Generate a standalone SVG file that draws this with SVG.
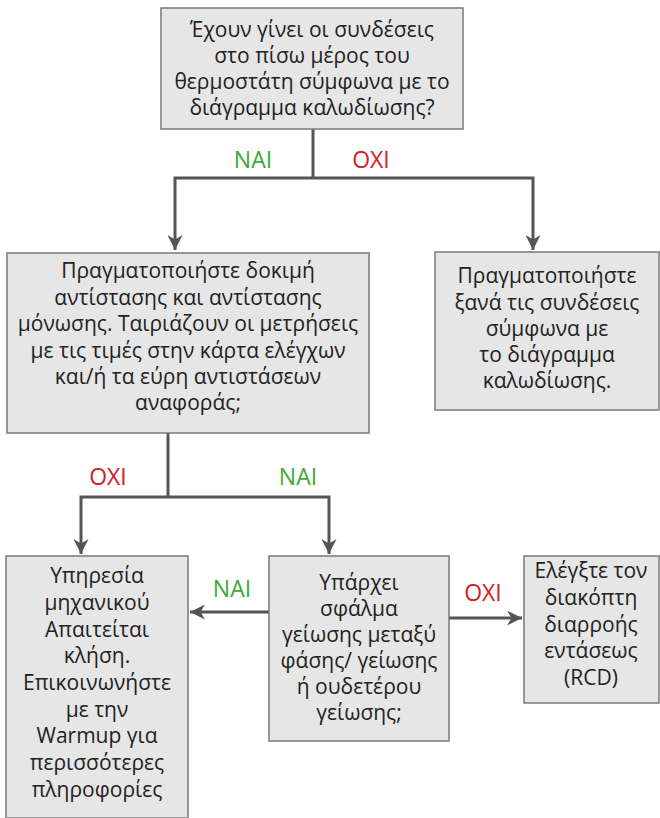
<svg xmlns="http://www.w3.org/2000/svg" width="660" height="818" viewBox="0 0 660 818">
<style>
.box{fill:#e6e6e6;stroke:#7a7a7a;stroke-width:1.5}
.t{font-family:"Open Sans","Noto Sans","DejaVu Sans",sans-serif;font-size:21px;fill:#222;text-anchor:middle}
.lbl{font-family:"Open Sans","Noto Sans","DejaVu Sans",sans-serif;font-size:23px;text-anchor:middle}
.yes{fill:#3aaa35}
.no{fill:#d42027}
.ln{fill:none;stroke:#555;stroke-width:3}
</style>
<defs>
<marker id="ah" viewBox="0 0 10 10" refX="10" refY="5" markerWidth="5" markerHeight="5" orient="auto" markerUnits="strokeWidth">
<path d="M0,0 L10,5 L0,10 L3,5 Z" fill="#555"/>
</marker>
</defs>
<g id="connectors">
<path class="ln" d="M313,129 V178"/>
<path class="ln" d="M313,178 H175 V250" marker-end="url(#ah)"/>
<path class="ln" d="M313,178 H533 V250" marker-end="url(#ah)"/>
<path class="ln" d="M168,433 V497"/>
<path class="ln" d="M168,497 H81 V554" marker-end="url(#ah)"/>
<path class="ln" d="M168,497 H329 V554" marker-end="url(#ah)"/>
<path class="ln" d="M269,612 H190" marker-end="url(#ah)"/>
<path class="ln" d="M449,618 H522" marker-end="url(#ah)"/>
<text class="lbl yes" x="253" y="168">NAI</text>
<text class="lbl no" x="371" y="168">OXI</text>
<text class="lbl no" x="108" y="485">OXI</text>
<text class="lbl yes" x="298" y="485">NAI</text>
<text class="lbl yes" x="232" y="597">NAI</text>
<text class="lbl no" x="483" y="601">OXI</text>
</g>
<g id="n1">
<rect class="box" x="161" y="8" width="302" height="121"/>
<text class="t"><tspan x="312" y="37">Έχουν γίνει οι συνδέσεις</tspan><tspan x="312" y="63">στο πίσω μέρος του</tspan><tspan x="312" y="89">θερμοστάτη σύμφωνα με το</tspan><tspan x="312" y="115">διάγραμμα καλωδίωσης?</tspan></text>
</g>
<g id="n2">
<rect class="box" x="7" y="253" width="362" height="180"/>
<text class="t"><tspan x="188" y="278">Πραγματοποιήστε δοκιμή</tspan><tspan x="188" y="305">αντίστασης και αντίστασης</tspan><tspan x="188" y="331">μόνωσης. Ταιριάζουν οι μετρήσεις</tspan><tspan x="188" y="358">με τις τιμές στην κάρτα ελέγχων</tspan><tspan x="188" y="384">και/ή τα εύρη αντιστάσεων</tspan><tspan x="188" y="410">αναφοράς;</tspan></text>
</g>
<g id="n3">
<rect class="box" x="435" y="252" width="224" height="158"/>
<text class="t"><tspan x="547" y="283">Πραγματοποιήστε</tspan><tspan x="547" y="310">ξανά τις συνδέσεις</tspan><tspan x="547" y="336">σύμφωνα με</tspan><tspan x="547" y="362">το διάγραμμα</tspan><tspan x="547" y="388">καλωδίωσης.</tspan></text>
</g>
<g id="n4">
<rect class="box" x="6" y="556" width="182" height="262"/>
<text class="t"><tspan x="97" y="583">Υπηρεσία</tspan><tspan x="97" y="610">μηχανικού</tspan><tspan x="97" y="637">Απαιτείται</tspan><tspan x="97" y="663">κλήση.</tspan><tspan x="97" y="690">Επικοινωνήστε</tspan><tspan x="97" y="717">με την</tspan><tspan x="97" y="743">Warmup για</tspan><tspan x="97" y="770">περισσότερες</tspan><tspan x="97" y="797">πληροφορίες</tspan></text>
</g>
<g id="n5">
<rect class="box" x="269" y="556" width="180" height="185"/>
<text class="t"><tspan x="359" y="590">Υπάρχει</tspan><tspan x="359" y="616">σφάλμα</tspan><tspan x="359" y="642">γείωσης μεταξύ</tspan><tspan x="359" y="668">φάσης/ γείωσης</tspan><tspan x="359" y="694">ή ουδετέρου</tspan><tspan x="359" y="720">γείωσης;</tspan></text>
</g>
<g id="n6">
<rect class="box" x="524" y="556" width="135" height="147"/>
<text class="t"><tspan x="591" y="578">Ελέγξτε τον</tspan><tspan x="591" y="605">διακόπτη</tspan><tspan x="591" y="632">διαρροής</tspan><tspan x="591" y="658">εντάσεως</tspan><tspan x="591" y="685">(RCD)</tspan></text>
</g>
</svg>
